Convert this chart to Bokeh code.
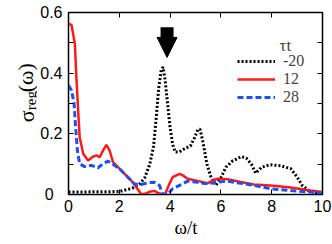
from bokeh.plotting import figure
from bokeh.layouts import row
from bokeh.models import (Range1d, FixedTicker, CustomJSTickFormatter, LinearAxis,
                          Legend, LegendItem, Label, Arrow, NormalHead)
from bokeh.core.properties import value
from bokeh.embed import file_html
from bokeh.resources import INLINE
import math

# ---- data ----
x_m20 = [0.0, 0.5, 1.0, 1.5, 2.0, 2.5, 2.8, 3.0, 3.2, 3.35, 3.45, 3.55, 3.65, 3.72, 3.8, 3.9,
         4.0, 4.1, 4.2, 4.35, 4.55, 4.8, 4.95, 5.1, 5.18, 5.3, 5.45, 5.6, 5.8, 6.0, 6.2, 6.45,
         6.8, 7.0, 7.2, 7.37, 7.6, 7.95, 8.35, 8.75, 9.0, 9.2, 9.45, 9.7, 10.0]
y_m20 = [0.008, 0.008, 0.009, 0.009, 0.01, 0.02, 0.035, 0.055, 0.1, 0.16, 0.25, 0.35, 0.41, 0.42,
         0.38, 0.3, 0.22, 0.165, 0.14, 0.14, 0.15, 0.16, 0.185, 0.215, 0.215, 0.17, 0.1, 0.06,
         0.03, 0.055, 0.09, 0.11, 0.125, 0.12, 0.1, 0.07, 0.09, 0.098, 0.095, 0.085, 0.058,
         0.03, 0.013, 0.007, 0.005]

x_12 = [0.0, 0.12, 0.25, 0.31, 0.38, 0.44, 0.58, 0.77, 0.97, 1.1, 1.23, 1.36, 1.49, 1.62, 1.75,
        1.95, 2.21, 2.47, 2.67, 2.86, 3.0, 3.19, 3.39, 3.5, 3.65, 3.8, 3.97, 4.1, 4.37, 4.5, 4.69,
        5.08, 5.47, 5.67, 5.87, 6.26, 6.78, 7.3, 7.96, 8.75, 9.53, 10.0]
y_12 = [0.563, 0.558, 0.497, 0.387, 0.277, 0.189, 0.134, 0.112, 0.125, 0.129, 0.123, 0.145, 0.164,
        0.145, 0.107, 0.09, 0.068, 0.046, 0.024, 0.002, 0.002, 0.009, 0.012, 0.006, 0.002, 0.0,
        0.035, 0.057, 0.068, 0.063, 0.052, 0.045, 0.037, 0.046, 0.052, 0.05, 0.041, 0.033, 0.03,
        0.023, 0.013, 0.008]

x_28 = [0.0, 0.12, 0.22, 0.27, 0.35, 0.44, 0.64, 0.9, 1.16, 1.36, 1.55, 1.82, 2.08, 2.34, 2.6,
        2.86, 3.12, 3.38, 3.58, 3.71, 3.9, 4.1, 4.37, 4.69, 5.02, 5.47, 5.87, 6.26, 6.78, 7.3,
        7.96, 8.75, 9.53, 10.0]
y_28 = [0.36, 0.343, 0.3, 0.233, 0.145, 0.101, 0.092, 0.096, 0.088, 0.101, 0.11, 0.096, 0.079,
        0.057, 0.035, 0.033, 0.039, 0.04, 0.03, 0.002, 0.0, 0.019, 0.03, 0.044, 0.041, 0.035,
        0.041, 0.044, 0.037, 0.03, 0.019, 0.013, 0.008, 0.004]

series_labels = ["-20", "12", "28"]
legend_title = "τt"
x_label = "ω/t"
y_label_parts = ["σ", "reg", "(ω)"]
x_ticks = [0, 2, 4, 6, 8, 10]
y_ticks = [0, 0.2, 0.4, 0.6]
y_minor = [0.1, 0.3, 0.5]
arrow_x = 3.88
arrow_y = [0.551, 0.452]

SERIF = "Liberation Serif"
SANS = "Liberation Sans"

# ---- side panel holding the rotated y-axis label ----
SW = 37
side = figure(width=SW, height=244, output_backend="svg", toolbar_location=None,
              x_range=Range1d(0, SW), y_range=Range1d(0, 244),
              x_axis_type=None, y_axis_type=None, min_border=0)
side.grid.visible = False
side.outline_line_color = None
side.background_fill_color = "white"
side.border_fill_color = "white"
side.text(x=[26], y=[244 - 147], text=[y_label_parts[0]], angle=math.pi / 2,
          text_font=value(SERIF), text_font_size="22px", text_align="left",
          text_baseline="alphabetic", text_color="black")
side.text(x=[30], y=[244 - 131], text=[y_label_parts[1]], angle=math.pi / 2,
          text_font=value(SERIF), text_font_size="15px", text_align="left",
          text_baseline="alphabetic", text_color="black")
side.text(x=[25], y=[244 - 107], text=[y_label_parts[2]], angle=math.pi / 2,
          text_font=value(SERIF), text_font_size="22px", text_align="left",
          text_baseline="alphabetic", text_color="black")

# ---- main plot ----
p = figure(width=332 - SW, height=244, output_backend="svg", toolbar_location=None,
           x_range=Range1d(0, 10), y_range=Range1d(0, 0.6),
           min_border_left=67 - SW, min_border_right=10, min_border_top=12,
           min_border_bottom=50)
p.grid.visible = False
p.background_fill_color = "white"
p.border_fill_color = "white"
p.outline_line_color = "black"
p.outline_line_width = 1.5

p.xaxis.ticker = FixedTicker(ticks=x_ticks)
p.yaxis.ticker = FixedTicker(ticks=y_ticks, minor_ticks=y_minor)
p.yaxis.formatter = CustomJSTickFormatter(
    code="return tick == 0 ? '0\\u2007' : tick.toFixed(1);")
for ax in (p.xaxis[0], p.yaxis[0]):
    ax.major_tick_in = 5
    ax.major_tick_out = 0
    ax.minor_tick_in = 5
    ax.minor_tick_out = 0
    ax.axis_line_color = "black"
    ax.major_tick_line_color = "black"
    ax.minor_tick_line_color = "black"
    ax.major_label_text_font = SANS
    ax.major_label_text_font_size = "16px"
    ax.major_label_text_color = "black"
p.xaxis.major_label_standoff = 5
p.yaxis.major_label_standoff = 6
p.xaxis.axis_label = x_label + "\u2003"
p.xaxis.axis_label_text_font = SERIF
p.xaxis.axis_label_text_font_style = "normal"
p.xaxis.axis_label_text_font_size = "19px"
p.xaxis.axis_label_text_color = "black"
p.xaxis.axis_label_standoff = 2

blank = CustomJSTickFormatter(code="return '';")
top = LinearAxis(ticker=FixedTicker(ticks=x_ticks), formatter=blank, major_tick_in=5,
                 major_tick_out=0, minor_tick_out=0, major_label_text_font_size="0px",
                 major_label_standoff=0, axis_line_color=None)
right = LinearAxis(ticker=FixedTicker(ticks=y_ticks, minor_ticks=y_minor), formatter=blank,
                   major_tick_in=5, major_tick_out=0, minor_tick_in=5, minor_tick_out=0,
                   major_label_text_font_size="0px", major_label_standoff=0,
                   axis_line_color=None)
p.add_layout(top, "above")
p.add_layout(right, "right")

r1 = p.line(x_m20, y_m20, line_color="black", line_width=3, line_dash="2 2")
r2 = p.line(x_12, y_12, line_color="#ff1a1a", line_width=2.5)
r3 = p.line(x_28, y_28, line_color="#1f4ff0", line_width=3, line_dash="6 3")

legend = Legend(items=[LegendItem(label=series_labels[0], renderers=[r1]),
                       LegendItem(label=series_labels[1], renderers=[r2]),
                       LegendItem(label=series_labels[2], renderers=[r3])],
                location=(169, 88), padding=0, margin=0, spacing=0,
                glyph_width=38, glyph_height=16, label_height=16, label_standoff=8,
                label_text_font=SERIF, label_text_font_size="16px",
                border_line_color=None, background_fill_alpha=0)
p.add_layout(legend, "center")

p.add_layout(Label(x=8.31, y=0.49, text=legend_title, text_font=SERIF, text_font_size="17px",
                   text_align="left", text_baseline="middle"))

p.add_layout(Arrow(end=NormalHead(size=20, fill_color="black", line_color="black"),
                   x_start=arrow_x, y_start=arrow_y[0], x_end=arrow_x, y_end=arrow_y[1],
                   line_width=13, line_color="black"))

layout = row(side, p, spacing=0)
open("out.html", "w").write(file_html(layout, INLINE))
